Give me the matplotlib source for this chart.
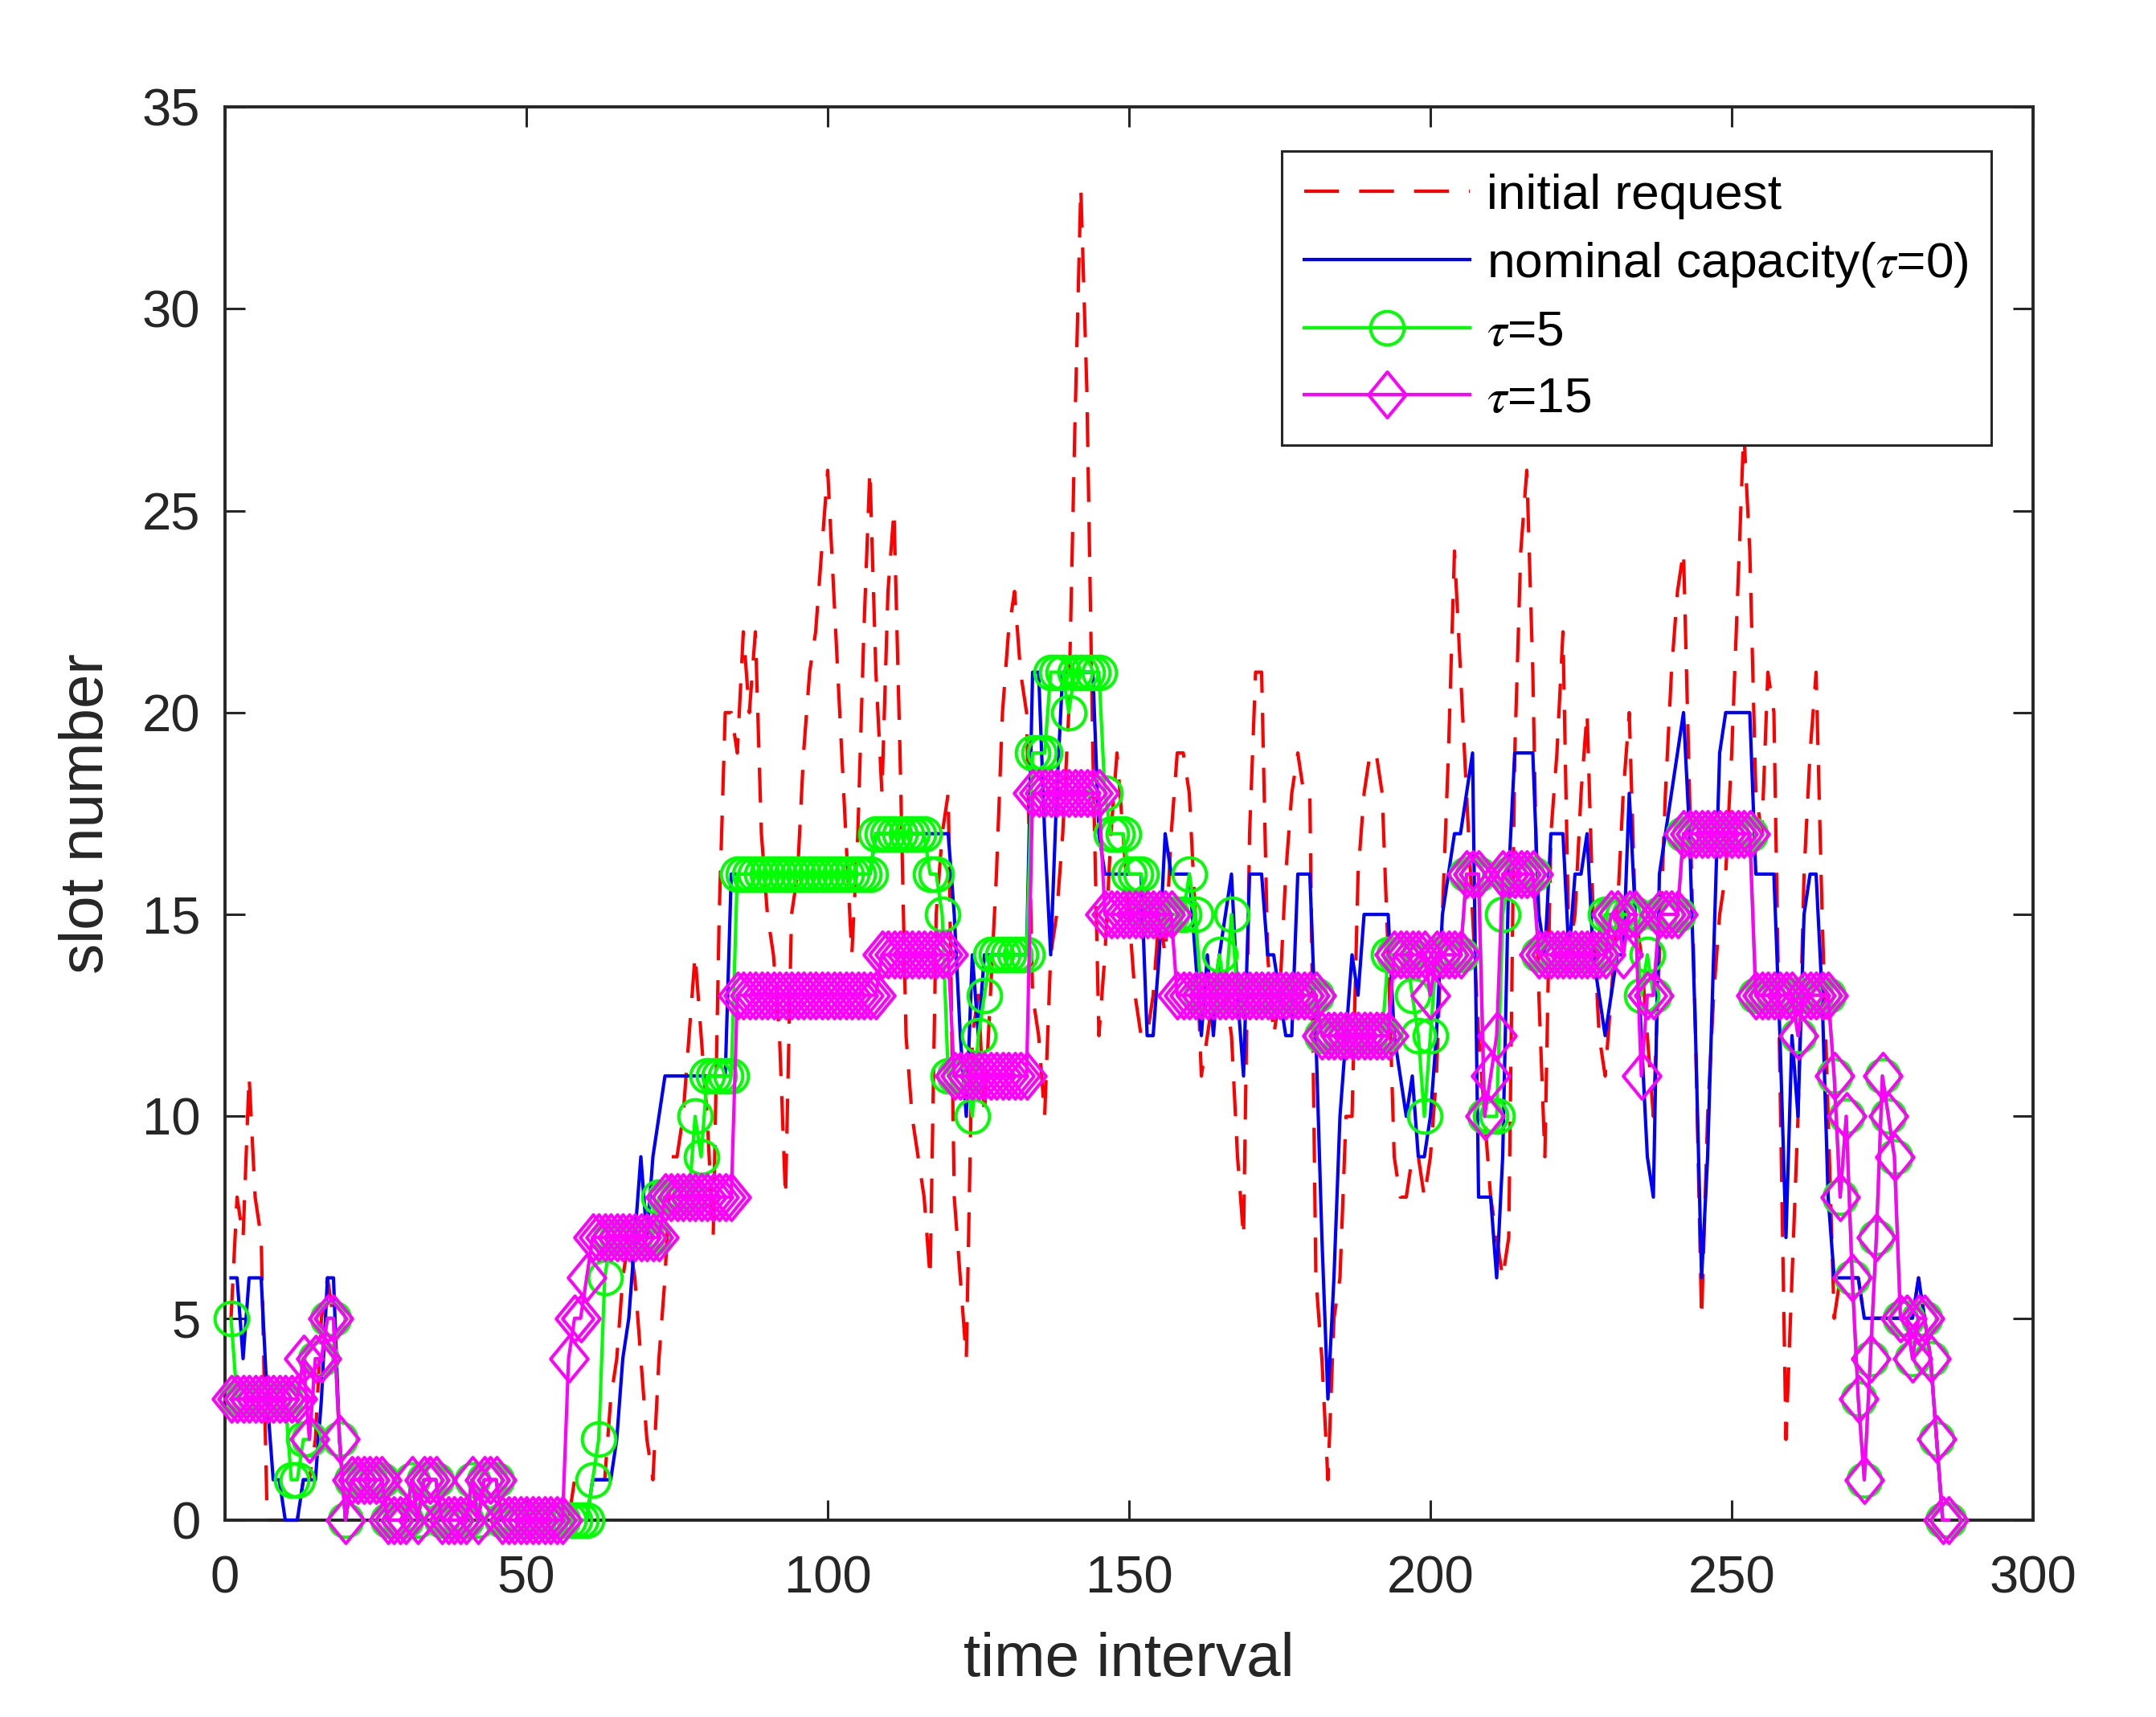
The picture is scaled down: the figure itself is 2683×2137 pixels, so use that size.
import matplotlib
matplotlib.use("Agg")
import matplotlib.pyplot as plt
import numpy as np
from matplotlib.path import Path

plt.rcParams['font.family'] = ['Liberation Sans', 'DejaVu Sans']
plt.rcParams['mathtext.fontset'] = 'stix'

# ---------------- data ----------------
initial_request = [
    5, 8, 7, 11, 8, 7, 0, 0, 0, 0,
    0, 0, 1, 1, 2, 5, 6, 5, 2, 0,
    1, 1, 1, 1, 1, 1, 0, 0, 0, 0,
    1, 0, 1, 1, 1, 0, 0, 0, 0, 0,
    1, 0, 1, 1, 1, 0, 0, 0, 0, 0,
    0, 0, 0, 0, 0, 0, 0, 1, 1, 1,
    1, 1, 1, 3, 4, 6, 7, 6, 4, 2,
    1, 4, 6, 9, 9, 10, 12, 14, 12, 10,
    7, 15, 20, 20, 19, 22, 20, 22, 17, 15,
    14, 12, 8, 15, 16, 19, 21, 22, 24, 26,
    23, 20, 17, 14, 17, 22, 26, 21, 18, 23,
    25, 19, 12, 10, 9, 8, 6, 15, 17, 18,
    8, 6, 4, 12, 13, 10, 13, 16, 20, 22,
    23, 21, 20, 13, 12, 10, 14, 15, 17, 20,
    27, 33, 28, 19, 12, 14, 17, 19, 17, 15,
    13, 12, 12, 13, 15, 14, 17, 19, 19, 18,
    15, 11, 12, 13, 14, 13, 12, 9, 7, 17,
    21, 21, 14, 12, 13, 16, 18, 19, 18, 18,
    6, 4, 1, 5, 6, 10, 10, 16, 18, 19,
    19, 18, 14, 9, 8, 8, 9, 9, 8, 9,
    11, 15, 19, 24, 21, 18, 15, 12, 10, 8,
    7, 6, 7, 19, 24, 26, 21, 13, 9, 17,
    19, 22, 14, 15, 18, 20, 15, 12, 11, 13,
    15, 18, 20, 15, 14, 12, 10, 14, 18, 21,
    23, 24, 18, 12, 5, 10, 13, 15, 16, 19,
    23, 27, 24, 18, 17, 21, 20, 11, 2, 6,
    10, 16, 19, 21, 15, 10, 5, 6, 6, 6,
    6, 5, 5, 5, 5, 5, 5, 5, 5, 5,
    6, 5, 4, 2, 0, 0,
]

nominal_capacity = [
    6, 6, 4, 6, 6, 6, 3, 1, 1, 0,
    0, 0, 1, 1, 1, 3, 6, 6, 2, 0,
    1, 1, 1, 1, 1, 1, 0, 0, 0, 0,
    1, 0, 1, 1, 1, 0, 0, 0, 0, 0,
    1, 0, 1, 1, 1, 0, 0, 0, 0, 0,
    0, 0, 0, 0, 0, 0, 0, 0, 0, 0,
    1, 1, 1, 1, 2, 4, 5, 7, 9, 7,
    9, 10, 11, 11, 11, 11, 11, 11, 11, 11,
    11, 11, 11, 16, 16, 16, 16, 16, 16, 16,
    16, 16, 16, 16, 16, 16, 16, 16, 16, 16,
    16, 16, 16, 16, 16, 16, 16, 17, 17, 17,
    17, 17, 17, 17, 17, 17, 17, 17, 17, 17,
    15, 12, 10, 14, 12, 14, 14, 14, 14, 14,
    14, 14, 14, 21, 21, 17, 14, 18, 21, 21,
    21, 21, 21, 21, 17, 16, 16, 16, 16, 16,
    16, 16, 12, 12, 14, 17, 16, 16, 16, 16,
    14, 12, 14, 12, 14, 15, 16, 13, 11, 16,
    16, 16, 14, 14, 13, 12, 12, 16, 16, 16,
    12, 7, 3, 6, 10, 12, 14, 13, 15, 15,
    15, 15, 15, 12, 11, 10, 11, 9, 9, 10,
    12, 15, 16, 17, 17, 18, 19, 8, 8, 8,
    6, 9, 16, 19, 19, 19, 19, 15, 14, 17,
    17, 17, 14, 16, 16, 17, 14, 13, 12, 13,
    14, 14, 18, 15, 12, 9, 8, 16, 17, 18,
    19, 20, 17, 12, 6, 9, 14, 19, 20, 20,
    20, 20, 20, 16, 16, 16, 16, 12, 7, 12,
    10, 15, 16, 16, 13, 8, 6, 6, 6, 6,
    6, 5, 5, 5, 5, 5, 5, 5, 5, 5,
    6, 5, 4, 2, 0, 0,
]

tau5 = [
    5, 3, 3, 3, 3, 3, 3, 3, 3, 3,
    1, 1, 2, 2, 4, 4, 5, 5, 2, 0,
    1, 1, 1, 1, 1, 1, 0, 0, 0, 0,
    1, 0, 1, 1, 1, 0, 0, 0, 0, 0,
    1, 0, 1, 1, 1, 0, 0, 0, 0, 0,
    0, 0, 0, 0, 0, 0, 0, 0, 0, 0,
    1, 2, 6, 7, 7, 7, 7, 7, 7, 7,
    7, 8, 8, 8, 8, 8, 8, 10, 9, 11,
    11, 11, 11, 11, 16, 16, 16, 16, 16, 16,
    16, 16, 16, 16, 16, 16, 16, 16, 16, 16,
    16, 16, 16, 16, 16, 16, 16, 17, 17, 17,
    17, 17, 17, 17, 17, 17, 16, 16, 15, 11,
    11, 11, 11, 10, 12, 13, 14, 14, 14, 14,
    14, 14, 14, 19, 19, 19, 21, 21, 21, 20,
    21, 21, 21, 21, 21, 18, 17, 17, 17, 16,
    16, 16, 15, 15, 15, 15, 15, 15, 15, 16,
    15, 13, 13, 13, 14, 13, 15, 13, 13, 13,
    13, 13, 13, 13, 13, 13, 13, 13, 13, 13,
    13, 12, 12, 12, 12, 12, 12, 12, 12, 12,
    12, 12, 14, 14, 14, 14, 13, 12, 10, 12,
    14, 14, 14, 14, 14, 16, 16, 16, 10, 10,
    10, 15, 16, 16, 16, 16, 16, 14, 14, 14,
    14, 14, 14, 14, 14, 14, 14, 14, 15, 15,
    15, 15, 15, 15, 13, 14, 13, 15, 15, 15,
    15, 17, 17, 17, 17, 17, 17, 17, 17, 17,
    17, 17, 17, 13, 13, 13, 13, 13, 13, 13,
    12, 13, 13, 13, 13, 13, 11, 8, 10, 6,
    3, 1, 4, 7, 11, 10, 9, 5, 5, 4,
    5, 5, 4, 2, 0, 0,
]

tau15 = [
    3, 3, 3, 3, 3, 3, 3, 3, 3, 3,
    3, 3, 4, 2, 4, 4, 5, 5, 2, 0,
    1, 1, 1, 1, 1, 1, 0, 0, 0, 0,
    1, 0, 1, 1, 1, 0, 0, 0, 0, 0,
    1, 0, 1, 1, 1, 0, 0, 0, 0, 0,
    0, 0, 0, 0, 0, 0, 4, 5, 5, 6,
    7, 7, 7, 7, 7, 7, 7, 7, 7, 7,
    7, 7, 8, 8, 8, 8, 8, 8, 8, 8,
    8, 8, 8, 8, 13, 13, 13, 13, 13, 13,
    13, 13, 13, 13, 13, 13, 13, 13, 13, 13,
    13, 13, 13, 13, 13, 13, 13, 13, 14, 14,
    14, 14, 14, 14, 14, 14, 14, 14, 14, 14,
    11, 11, 11, 11, 11, 11, 11, 11, 11, 11,
    11, 11, 11, 18, 18, 18, 18, 18, 18, 18,
    18, 18, 18, 18, 18, 15, 15, 15, 15, 15,
    15, 15, 15, 15, 15, 15, 15, 13, 13, 13,
    13, 13, 13, 13, 13, 13, 13, 13, 13, 13,
    13, 13, 13, 13, 13, 13, 13, 13, 13, 13,
    13, 12, 12, 12, 12, 12, 12, 12, 12, 12,
    12, 12, 12, 14, 14, 14, 14, 14, 14, 13,
    14, 14, 14, 14, 14, 16, 16, 16, 10, 11,
    12, 16, 16, 16, 16, 16, 16, 14, 14, 14,
    14, 14, 14, 14, 14, 14, 14, 14, 14, 15,
    15, 14, 15, 15, 11, 13, 13, 15, 15, 15,
    15, 17, 17, 17, 17, 17, 17, 17, 17, 17,
    17, 17, 17, 13, 13, 13, 13, 13, 13, 13,
    12, 13, 13, 13, 13, 13, 11, 8, 10, 6,
    3, 1, 4, 7, 11, 10, 9, 5, 5, 4,
    5, 5, 4, 2, 0, 0,
]

time_interval = np.arange(1, len(tau15) + 1)
x_ticks = [0, 50, 100, 150, 200, 250, 300]
y_ticks = [0, 5, 10, 15, 20, 25, 30, 35]
labels = ['initial request', r'nominal capacity($\tau$=0)', r'$\tau$=5', r'$\tau$=15']

# ---------------- figure ----------------
W, H, DPI = 2683, 2137, 200
fig = plt.figure(figsize=(W / DPI, H / DPI), dpi=DPI)
ax = fig.add_axes([280 / W, 1 - 1892 / H, 2250 / W, 1759 / H])

diamond = Path([(0, 1), (0.82, 0), (0, -1), (-0.82, 0), (0, 1)],
               [Path.MOVETO, Path.LINETO, Path.LINETO, Path.LINETO, Path.CLOSEPOLY])

lw = 1.5
ax.plot(time_interval, initial_request, color='#FF0000', lw=lw,
        ls=(0, (10.4, 6)), label=labels[0], clip_on=False, zorder=2)
ax.plot(time_interval, nominal_capacity, color='#0000FF', lw=lw,
        label=labels[1], clip_on=False, zorder=3)
ax.plot(time_interval, tau5, color='#00FF00', lw=lw, marker='o', ms=15,
        mfc='none', mec='#00FF00', mew=1.45, label=labels[2], clip_on=False, zorder=4)
ax.plot(time_interval, tau15, color='#FF00FF', lw=lw, marker=diamond, ms=20.5,
        mfc='none', mec='#FF00FF', mew=1.45, label=labels[3], clip_on=False, zorder=5)

ax.set_xlim(0, 300)
ax.set_ylim(0, 35)
ax.set_xticks(x_ticks)
ax.set_yticks(y_ticks)

dark = '#262626'
for s in ax.spines.values():
    s.set_linewidth(1.4)
    s.set_color(dark)
ax.tick_params(direction='in', length=9, width=1.1, colors=dark,
               labelsize=23.5, top=True, right=True)
ax.tick_params(axis='x', pad=15.5)
ax.tick_params(axis='y', pad=11)
for lab in ax.get_xticklabels() + ax.get_yticklabels():
    lab.set_color(dark)

ax.set_xlabel('time interval', fontsize=27.5, color=dark, labelpad=13)
ax.set_ylabel('slot number', fontsize=27.5, color=dark, labelpad=12)

leg = ax.legend(loc='upper right', bbox_to_anchor=(0.977, 0.969),
                fontsize=22.4, frameon=True, fancybox=False, framealpha=1,
                edgecolor='#262626', handlelength=3.3, handletextpad=0.35,
                labelspacing=0.42, borderpad=0.45, borderaxespad=0)
leg.get_frame().set_linewidth(1.1)
leg.set_zorder(10)

fig.savefig('out.png', dpi=DPI)
